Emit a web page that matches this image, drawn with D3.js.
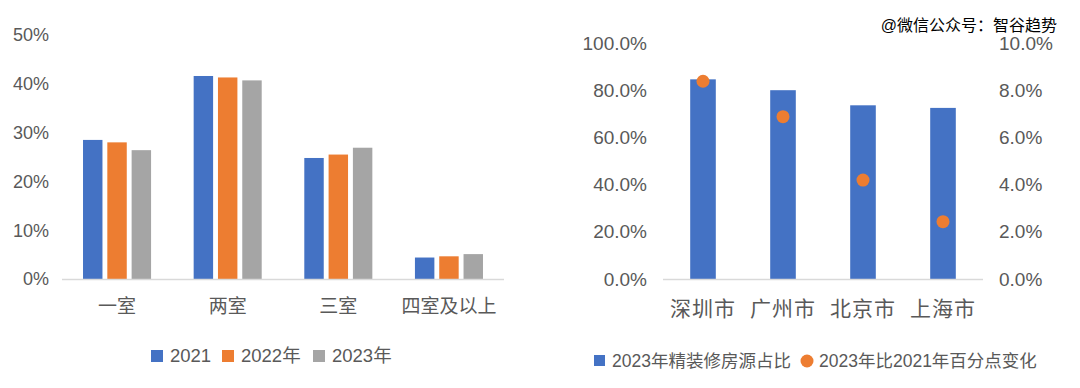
<!DOCTYPE html>
<html>
<head>
<meta charset="utf-8">
<script src="https://cdn.jsdelivr.net/npm/d3@7"></script>
<style>
  body { margin: 0; background: #fff; }
  svg text { font-family: "Liberation Sans", "Noto Sans CJK SC", sans-serif; fill: #595959; }
</style>
</head>
<body>
<script>
// left chart data: share of listings by room count
const rooms = ["一室", "两室", "三室", "四室及以上"];
const years = ["2021", "2022年", "2023年"];
const share2021 = [0.285, 0.416, 0.248, 0.044];
const share2022 = [0.280, 0.413, 0.255, 0.0465];
const share2023 = [0.264, 0.407, 0.269, 0.051];
const yearColors = ["#4472C4", "#ED7D31", "#A5A5A5"];

// right chart data: finished-decoration share by city
const cities = ["深圳市", "广州市", "北京市", "上海市"];
const finishedShare = [0.846, 0.800, 0.736, 0.725];
const pointChange = [0.0838, 0.0688, 0.0419, 0.0243];
const leftTicks = [0, 0.1, 0.2, 0.3, 0.4, 0.5];
const rightTicks = [0, 0.2, 0.4, 0.6, 0.8, 1.0];
const rightTicks2 = [0, 0.02, 0.04, 0.06, 0.08, 0.10];

const width = 1080, height = 388;
const svg = d3.select("body").append("svg")
    .attr("width", width)
    .attr("height", height);

// ---------- left chart ----------
const x0 = d3.scaleBand().domain(rooms).range([62, 504]).paddingInner(0.385).paddingOuter(0.19);
const x1 = d3.scaleBand().domain(years).range([0, x0.bandwidth()]).paddingInner(0.2);
const yL = d3.scaleLinear().domain([0, 0.5]).range([279, 35]);

const series = [share2021, share2022, share2023];

svg.append("g").selectAll("text")
  .data(leftTicks)
  .join("text")
    .attr("x", 49)
    .attr("y", d => yL(d))
    .attr("dy", "0.35em")
    .attr("text-anchor", "end")
    .style("font-size", "18px")
    .text(d => d3.format(".0%")(d));

const groups = svg.append("g").selectAll("g")
  .data(rooms)
  .join("g")
    .attr("transform", d => `translate(${x0(d)},0)`);

groups.selectAll("rect")
  .data((d, i) => years.map((y, j) => ({year: y, value: series[j][i], color: yearColors[j]})))
  .join("rect")
    .attr("x", d => x1(d.year))
    .attr("y", d => yL(d.value))
    .attr("width", x1.bandwidth())
    .attr("height", d => yL(0) - yL(d.value))
    .attr("fill", d => d.color);

svg.append("line")
    .attr("x1", 62).attr("x2", 504)
    .attr("y1", yL(0) + 0.5).attr("y2", yL(0) + 0.5)
    .attr("stroke", "#d9d9d9").attr("stroke-width", 1.5);

svg.append("g").selectAll("text")
  .data(rooms)
  .join("text")
    .attr("x", d => x0(d) + x0.bandwidth() / 2)
    .attr("y", 313)
    .attr("text-anchor", "middle")
    .style("font-size", "19px")
    .text(d => d);

// left legend
const legL = svg.append("g");
const legLx = [151, 222, 313];
years.forEach((y, i) => {
  legL.append("rect")
      .attr("x", legLx[i]).attr("y", 350)
      .attr("width", 12).attr("height", 12)
      .attr("fill", yearColors[i]);
  legL.append("text")
      .attr("x", legLx[i] + 19).attr("y", 356)
      .attr("dy", "0.35em")
      .style("font-size", "18.5px")
      .text(y);
});

// ---------- right chart ----------
const xc = d3.scaleBand().domain(cities).range([663, 983]).paddingInner(0.68).paddingOuter(0.34);
const yR = d3.scaleLinear().domain([0, 1]).range([279, 43]);
const yR2 = d3.scaleLinear().domain([0, 0.1]).range([279, 43]);

svg.append("g").selectAll("text")
  .data(rightTicks)
  .join("text")
    .attr("x", 647)
    .attr("y", d => yR(d))
    .attr("dy", "0.35em")
    .attr("text-anchor", "end")
    .style("font-size", "19px")
    .text(d => d3.format(".1%")(d));

svg.append("g").selectAll("text")
  .data(rightTicks2)
  .join("text")
    .attr("x", 999)
    .attr("y", d => yR2(d))
    .attr("dy", "0.35em")
    .style("font-size", "19px")
    .text(d => d3.format(".1%")(d));

svg.append("g").selectAll("rect")
  .data(cities)
  .join("rect")
    .attr("x", d => xc(d))
    .attr("y", (d, i) => yR(finishedShare[i]))
    .attr("width", xc.bandwidth())
    .attr("height", (d, i) => yR(0) - yR(finishedShare[i]))
    .attr("fill", "#4472C4");

svg.append("line")
    .attr("x1", 663).attr("x2", 983)
    .attr("y1", yR(0) + 0.5).attr("y2", yR(0) + 0.5)
    .attr("stroke", "#d9d9d9").attr("stroke-width", 1.5);

svg.append("g").selectAll("circle")
  .data(cities)
  .join("circle")
    .attr("cx", d => xc(d) + xc.bandwidth() / 2)
    .attr("cy", (d, i) => yR2(pointChange[i]))
    .attr("r", 6.5)
    .attr("fill", "#ED7D31");

svg.append("g").selectAll("text")
  .data(cities)
  .join("text")
    .attr("x", d => xc(d) + xc.bandwidth() / 2)
    .attr("y", 316)
    .attr("text-anchor", "middle")
    .style("font-size", "21px")
    .style("letter-spacing", "1px")
    .text(d => d);

// right legend
svg.append("rect")
    .attr("x", 594).attr("y", 355)
    .attr("width", 11).attr("height", 11)
    .attr("fill", "#4472C4");
svg.append("text")
    .attr("x", 612).attr("y", 361)
    .attr("dy", "0.35em")
    .style("font-size", "17.5px")
    .text("2023年精装修房源占比");
svg.append("circle")
    .attr("cx", 807).attr("cy", 361)
    .attr("r", 6.5)
    .attr("fill", "#ED7D31");
svg.append("text")
    .attr("x", 819).attr("y", 361)
    .attr("dy", "0.35em")
    .style("font-size", "17.5px")
    .text("2023年比2021年百分点变化");

// watermark
svg.append("text")
    .attr("x", 1057).attr("y", 25)
    .attr("dy", "0.35em")
    .attr("text-anchor", "end")
    .style("font-size", "16px")
    .style("fill", "#000")
    .text("@微信公众号：智谷趋势");
</script>
</body>
</html>
